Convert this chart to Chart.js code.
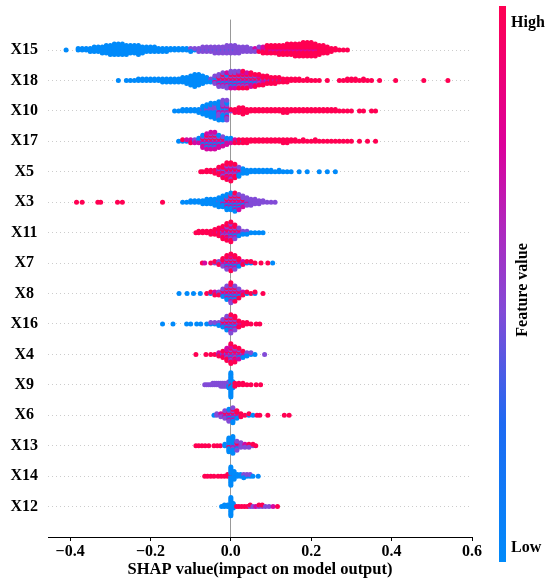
<!DOCTYPE html>
<html>
<head>
<meta charset="utf-8">
<script src="https://cdn.jsdelivr.net/npm/chart.js@4"></script>
<style>
html,body{margin:0;padding:0;background:#fff;}
canvas{display:block;}
</style>
</head>
<body>
<canvas id="c" width="550" height="580"></canvas>
<script>
// Feature names, top to bottom
const features = ['X15','X18','X10','X17','X5','X3','X11','X7','X8','X16','X4','X9','X6','X13','X14','X12'];
// Feature value (0 = low, 1 = high) of each count column in the bins below
const featureLevels = [0.0, 0.45, 0.72, 1.0];
const xTicks = [-0.4, -0.2, 0.0, 0.2, 0.4, 0.6];

// Bins: [SHAP value, nBlue(low), nPurple, nMagenta, nRed(high)]
const X15 = [
[-0.41,1,0,0,0],[-0.38,2,0,0,0],[-0.37,2,0,0,0],[-0.36,2,0,0,0],[-0.35,3,0,0,0],[-0.34,4,0,0,0],[-0.33,4,0,0,0],
[-0.32,5,0,0,0],[-0.31,6,0,0,0],[-0.30,7,0,0,0],[-0.29,8,0,0,0],[-0.28,8,0,0,0],[-0.27,8,0,0,0],[-0.26,7,0,0,0],
[-0.25,6,0,0,0],[-0.24,6,0,0,0],[-0.23,7,0,0,0],[-0.22,5,0,0,0],[-0.21,4,0,0,0],[-0.20,4,0,0,0],[-0.19,4,0,0,0],
[-0.18,3,0,0,0],[-0.17,3,0,0,0],[-0.16,3,0,0,0],[-0.15,2,0,0,0],[-0.14,2,0,0,0],[-0.13,2,0,0,0],[-0.12,2,0,0,0],
[-0.11,2,0,0,0],[-0.10,2,1,0,0],[-0.09,1,1,0,0],[-0.08,1,2,0,0],[-0.07,1,3,0,0],[-0.06,1,3,0,0],[-0.05,1,3,0,0],
[-0.04,1,4,0,0],[-0.03,1,4,0,0],[-0.02,1,4,0,0],[-0.01,1,5,0,0],[0.00,1,5,0,0],[0.01,1,5,0,0],[0.02,0,5,0,0],
[0.03,0,4,0,0],[0.04,0,4,0,0],[0.05,0,3,0,0],[0.06,0,2,1,0],[0.07,0,2,1,1],[0.08,0,1,2,2],[0.09,0,1,1,4],
[0.10,0,0,2,4],[0.11,0,0,2,4],[0.12,0,0,2,5],[0.13,0,0,2,5],[0.14,0,0,2,6],[0.15,0,0,2,6],[0.16,0,0,2,7],
[0.17,0,0,2,7],[0.18,0,0,2,8],[0.19,0,0,2,8],[0.20,0,0,2,8],[0.21,0,0,2,7],[0.22,0,0,1,6],[0.23,0,0,1,5],
[0.24,0,0,1,4],[0.25,0,0,0,3],[0.26,0,0,0,2],[0.27,0,0,0,1],[0.28,0,0,0,1],[0.29,0,0,0,1]
];
const X18 = [
[-0.28,1,0,0,0],[-0.26,1,0,0,0],[-0.25,1,0,0,0],[-0.24,1,0,0,0],[-0.23,2,0,0,0],[-0.22,2,0,0,0],[-0.21,2,0,0,0],
[-0.20,2,0,0,0],[-0.19,2,0,0,0],[-0.18,2,0,0,0],[-0.17,3,0,0,0],[-0.16,3,0,0,0],[-0.15,3,0,0,0],[-0.14,3,0,0,0],
[-0.13,3,0,0,0],[-0.12,4,0,0,0],[-0.11,5,0,0,0],[-0.10,7,0,0,0],[-0.09,9,0,0,0],[-0.08,8,0,0,0],[-0.07,6,0,0,0],
[-0.06,4,0,0,0],[-0.05,2,1,0,0],[-0.04,2,3,1,0],[-0.03,2,4,2,1],[-0.02,2,4,2,2],[-0.01,3,4,3,1],[0.00,3,4,3,2],
[0.01,3,4,3,2],[0.02,2,4,3,3],[0.03,2,3,3,4],[0.04,2,3,3,3],[0.05,2,2,3,3],[0.06,2,2,2,3],[0.07,1,2,2,3],
[0.08,1,1,2,3],[0.09,1,1,1,3],[0.10,1,0,1,3],[0.11,0,1,1,3],[0.12,1,0,1,2],[0.13,0,1,0,2],[0.14,0,0,1,2],
[0.15,0,0,0,2],[0.16,0,0,0,2],[0.17,0,0,0,2],[0.18,0,0,0,1],[0.19,0,0,0,2],[0.20,0,0,0,1],[0.21,0,0,0,1],
[0.22,0,0,0,1],[0.24,0,0,0,1],[0.27,0,0,0,1],[0.28,0,0,0,1],[0.29,0,0,0,2],[0.30,0,0,0,2],[0.31,0,0,0,2],
[0.32,0,0,0,1],[0.33,0,0,0,2],[0.34,0,0,0,1],[0.35,0,0,0,1],[0.37,0,0,0,1],[0.41,0,0,0,1],[0.48,0,0,0,1],[0.54,0,0,0,1]
];
const X10 = [
[-0.14,1,0,0,0],[-0.13,1,0,0,0],[-0.12,2,0,0,0],[-0.11,2,0,0,0],[-0.10,2,0,0,0],[-0.09,2,0,0,0],[-0.08,3,0,0,0],
[-0.07,5,1,0,0],[-0.06,6,2,0,0],[-0.05,7,3,0,0],[-0.04,7,4,0,0],[-0.03,7,5,1,0],[-0.02,6,6,2,0],[-0.01,5,6,3,0],
[0.00,0,1,0,1],[0.01,0,0,0,3],[0.02,0,0,1,3],[0.03,0,0,1,4],[0.04,0,0,0,3],[0.05,0,0,0,2],[0.06,0,0,0,2],
[0.07,0,0,0,2],[0.08,0,0,0,2],[0.09,0,0,0,2],[0.10,0,0,0,2],[0.11,0,0,0,2],[0.12,0,0,0,2],[0.13,0,0,0,3],
[0.14,0,0,0,3],[0.15,0,0,0,2],[0.16,0,0,0,2],[0.17,0,0,0,2],[0.18,0,0,0,2],[0.19,0,0,0,2],[0.20,0,0,0,2],
[0.21,0,0,0,2],[0.22,0,0,0,2],[0.23,0,0,0,2],[0.24,0,0,0,2],[0.25,0,0,0,2],[0.26,0,0,0,2],[0.27,0,0,0,1],
[0.28,0,0,0,1],[0.29,0,0,0,1],[0.30,0,0,0,1],[0.32,0,0,0,1],[0.33,0,0,0,1],[0.35,0,0,0,1],[0.36,0,0,0,1]
];
const X17 = [
[-0.13,1,0,0,0],[-0.12,1,0,0,1],[-0.11,1,0,1,0],[-0.10,1,0,1,1],[-0.09,1,1,1,0],[-0.08,2,1,1,0],[-0.07,3,2,3,1],
[-0.06,3,2,4,2],[-0.05,3,3,4,2],[-0.04,3,3,4,2],[-0.03,3,2,3,1],[-0.02,2,2,2,1],[-0.01,2,1,2,0],[0.00,2,1,1,0],
[0.01,1,0,1,1],[0.02,1,0,0,2],[0.03,1,0,0,2],[0.04,0,0,0,3],[0.05,0,0,0,2],[0.06,0,0,0,2],[0.07,0,0,0,2],
[0.08,0,0,0,2],[0.09,0,0,0,2],[0.10,0,0,0,2],[0.11,0,0,0,2],[0.12,0,0,0,2],[0.13,0,0,0,3],[0.14,0,0,0,3],
[0.15,0,0,0,2],[0.16,0,0,0,2],[0.17,0,0,0,1],[0.18,0,0,0,2],[0.19,0,0,0,1],[0.20,0,0,0,1],[0.21,0,0,0,2],
[0.22,0,0,0,1],[0.23,0,0,0,1],[0.24,0,0,0,1],[0.25,0,0,0,1],[0.26,0,0,0,1],[0.27,0,0,0,1],[0.28,0,0,0,1],
[0.29,0,0,0,1],[0.30,0,0,0,1],[0.32,0,0,0,1],[0.34,0,0,0,1],[0.36,0,0,0,1]
];
const X5 = [
[-0.075,0,0,0,1],[-0.07,0,0,0,1],[-0.06,0,0,0,2],[-0.05,0,0,0,2],[-0.04,0,1,0,2],[-0.03,0,2,1,3],[-0.02,0,3,2,4],
[-0.01,1,3,3,5],[0.00,1,4,3,5],[0.01,1,3,2,4],[0.02,3,2,1,1],[0.03,3,1,0,0],[0.04,3,0,0,0],[0.05,2,0,0,0],
[0.06,2,0,0,0],[0.07,2,0,0,0],[0.08,2,0,0,0],[0.09,2,0,0,0],[0.10,2,0,0,0],[0.11,1,0,0,0],[0.12,2,0,0,0],
[0.13,1,0,0,0],[0.14,1,0,0,0],[0.15,1,0,0,0],[0.17,1,0,0,0],[0.19,1,0,0,0],[0.22,1,0,0,0],[0.24,1,0,0,0],[0.26,1,0,0,0]
];
const X3 = [
[-0.384,0,0,0,1],[-0.37,0,0,0,1],[-0.331,0,0,0,1],[-0.324,0,0,0,1],[-0.282,0,0,0,1],[-0.27,0,0,0,1],[-0.17,0,0,0,1],
[-0.12,1,0,0,0],[-0.11,1,0,0,0],[-0.10,2,0,0,0],[-0.09,2,0,0,0],[-0.08,2,0,0,0],[-0.07,3,0,0,0],[-0.06,4,0,0,0],
[-0.05,4,0,0,0],[-0.04,5,0,0,0],[-0.03,6,1,0,0],[-0.02,6,1,1,0],[-0.01,6,2,2,1],[0.00,5,3,2,2],[0.01,4,3,3,3],
[0.02,3,3,3,2],[0.03,2,3,2,1],[0.04,1,4,1,0],[0.05,1,4,0,0],[0.06,0,4,0,0],[0.07,0,3,0,0],[0.08,0,2,0,0],
[0.09,0,1,0,0],[0.10,0,1,0,0],[0.11,0,1,0,0]
];
const X11 = [
[-0.087,0,0,0,1],[-0.08,0,0,0,2],[-0.07,0,0,0,2],[-0.06,0,0,0,2],[-0.05,0,0,0,3],[-0.04,0,0,1,3],[-0.03,0,1,1,4],
[-0.02,1,2,2,4],[-0.01,1,3,3,5],[0.00,2,4,3,5],[0.01,2,3,2,3],[0.02,2,2,1,1],[0.03,2,1,0,0],[0.04,2,1,0,0],
[0.05,1,0,0,0],[0.06,1,0,0,0],[0.07,1,0,0,0],[0.08,1,0,0,0]
];
const X7 = [
[-0.071,0,0,0,1],[-0.065,0,0,1,0],[-0.05,0,0,0,1],[-0.04,0,1,0,1],[-0.03,1,1,0,1],[-0.02,1,2,1,2],[-0.01,2,3,2,3],
[0.00,2,3,3,4],[0.01,2,3,2,3],[0.02,2,1,1,2],[0.03,1,0,1,1],[0.04,1,0,0,1],[0.05,1,0,0,1],[0.06,0,0,0,1],
[0.075,0,0,0,1],[0.092,0,0,0,1],[0.104,1,0,0,0]
];
const X8 = [
[-0.129,1,0,0,0],[-0.109,1,0,0,0],[-0.093,1,0,0,0],[-0.076,1,0,0,0],[-0.06,0,0,0,1],[-0.05,1,0,0,1],[-0.04,1,0,1,1],
[-0.03,1,1,0,1],[-0.02,2,2,1,1],[-0.01,3,3,2,2],[0.00,3,4,3,4],[0.01,3,3,2,3],[0.02,2,2,1,2],[0.03,1,0,1,1],
[0.04,1,0,0,1],[0.05,0,0,0,1],[0.06,1,0,0,1],[0.08,0,0,0,1]
];
const X16 = [
[-0.17,1,0,0,0],[-0.144,1,0,0,0],[-0.11,1,0,0,0],[-0.10,1,0,0,0],[-0.085,1,0,0,0],[-0.075,1,0,0,0],[-0.06,1,0,0,0],
[-0.05,1,1,0,0],[-0.04,1,1,0,0],[-0.03,2,1,0,0],[-0.02,2,2,1,1],[-0.01,3,3,2,2],[0.00,3,4,3,3],[0.01,2,3,2,3],
[0.02,1,1,1,2],[0.03,0,0,1,2],[0.04,0,0,0,2],[0.05,0,0,0,1],[0.063,0,0,0,1],[0.072,0,0,0,1]
];
const X4 = [
[-0.087,0,0,0,1],[-0.062,0,0,0,1],[-0.05,0,0,0,1],[-0.04,0,0,0,1],[-0.03,1,0,1,1],[-0.02,1,1,1,2],[-0.01,1,2,3,3],
[0.00,2,3,4,5],[0.01,1,3,3,4],[0.02,2,2,2,2],[0.03,2,1,1,1],[0.04,2,1,0,0],[0.05,1,1,0,0],[0.06,1,0,0,0],[0.084,0,1,0,0]
];
const X9 = [
[-0.065,0,1,0,0],[-0.06,0,1,0,0],[-0.055,0,1,0,0],[-0.05,0,1,0,0],[-0.045,0,2,0,0],[-0.04,0,2,0,0],[-0.035,0,2,0,0],
[-0.03,0,2,0,0],[-0.025,0,3,0,0],[-0.02,0,3,0,0],[-0.015,0,3,0,0],[-0.01,0,3,0,0],[-0.005,3,2,0,0],[0.00,15,1,0,1],
[0.005,4,0,0,1],[0.01,1,0,0,2],[0.02,0,0,0,2],[0.03,0,0,0,2],[0.04,0,0,0,1],[0.05,0,0,0,1],[0.063,0,0,0,1],[0.074,0,0,0,1]
];
const X6 = [
[-0.042,1,0,0,0],[-0.035,0,2,0,0],[-0.025,0,2,1,0],[-0.015,1,3,1,1],[-0.005,3,3,2,1],[0.005,4,3,2,2],[0.015,2,1,1,2],
[0.025,1,0,0,2],[0.035,0,0,0,1],[0.045,1,0,0,1],[0.055,1,0,0,0],[0.065,0,0,0,1],[0.072,0,0,0,1],[0.092,0,0,0,1],
[0.133,0,0,0,1],[0.145,0,0,0,1]
];
const X13 = [
[-0.087,0,0,0,1],[-0.08,0,0,0,1],[-0.072,0,0,0,1],[-0.064,0,0,0,1],[-0.055,0,0,0,1],[-0.042,0,0,0,1],[-0.034,0,0,0,1],
[-0.026,0,0,0,1],[-0.015,2,0,0,0],[-0.005,8,1,0,1],[0.005,9,2,1,0],[0.015,2,3,1,1],[0.025,0,3,1,0],[0.035,0,2,1,0],
[0.045,0,2,0,1],[0.055,0,1,0,1],[0.062,0,0,0,1]
];
const X14 = [
[-0.065,0,0,0,1],[-0.058,0,0,0,1],[-0.05,0,0,0,1],[-0.042,0,0,0,1],[-0.032,0,0,0,1],[-0.024,0,0,0,1],[-0.016,0,0,0,1],
[-0.008,0,0,0,2],[0.00,12,0,0,1],[0.008,6,0,0,0],[0.016,2,0,0,0],[0.024,2,0,0,0],[0.032,2,1,0,0],[0.04,1,1,0,0],
[0.048,1,1,0,0],[0.055,1,0,0,0],[0.068,1,0,0,0]
];
const X12 = [
[-0.023,1,0,0,0],[-0.016,2,0,0,0],[-0.008,2,0,0,0],[0.00,13,0,0,0],[0.006,4,0,0,0],[0.014,0,0,0,1],[0.02,0,0,0,1],
[0.027,0,0,0,1],[0.034,0,0,0,1],[0.041,0,0,0,1],[0.048,0,1,0,1],[0.055,0,1,0,0],[0.062,0,0,1,0],[0.07,0,1,0,1],
[0.078,0,1,0,1],[0.086,0,1,0,0],[0.095,0,1,0,0],[0.105,0,0,1,0],[0.116,0,0,0,1]
];
const rows = [X15, X18, X10, X17, X5, X3, X11, X7, X8, X16, X4, X9, X6, X13, X14, X12];

// ---- styling ----
const FONT = '"Liberation Serif", "Times New Roman", serif';
const cmapStops = [
  [0.00, [0,138,250]],
  [0.25, [30,105,242]],
  [0.45, [130,75,215]],
  [0.60, [175,40,190]],
  [0.75, [220,0,155]],
  [1.00, [255,0,82]]
];
function cmap(t){
  for(let i=1;i<cmapStops.length;i++){
    const [t1,c1]=cmapStops[i], [t0,c0]=cmapStops[i-1];
    if(t<=t1){
      const f=(t-t0)/(t1-t0);
      const c=c0.map((v,k)=>Math.round(v+(c1[k]-v)*f));
      return `rgb(${c[0]},${c[1]},${c[2]})`;
    }
  }
  const c=cmapStops[cmapStops.length-1][1];
  return `rgb(${c[0]},${c[1]},${c[2]})`;
}
const STACK = 0.05;   // vertical step between stacked dots, in row units

const datasets = rows.map((bins, r) => {
  const yc = features.length - 1 - r;
  const pts = [], cols = [];
  bins.forEach(b => {
    const counts = b.slice(1).slice();
    const seq = [];
    let left = counts.reduce((a,c)=>a+c,0);
    while(left>0){
      for(let k=0;k<counts.length;k++){ if(counts[k]>0){ seq.push(k); counts[k]--; left--; } }
    }
    seq.forEach((lvl, j) => {
      const off = j===0 ? 0 : (j%2===1 ? (j+1)/2 : -j/2) * STACK;
      pts.push({x: b[0], y: yc + off});
      cols.push(cmap(featureLevels[lvl]));
    });
  });
  return {data: pts, pointBackgroundColor: cols, pointBorderWidth: 0, pointRadius: 2.5, pointHoverRadius: 2.5, showLine: false};
});

const fmt = v => (v < -1e-9 ? '\u2212' : '') + Math.abs(v).toFixed(1);

const colorbar = {
  id: 'colorbar',
  afterDraw(chart){
    const ctx = chart.ctx;
    const x0 = 499, w = 7, top = 6, bot = 562;
    const g = ctx.createLinearGradient(0, bot, 0, top);
    cmapStops.forEach(([t]) => g.addColorStop(t, cmap(t)));
    ctx.save();
    ctx.fillStyle = g;
    ctx.fillRect(x0, top, w, bot - top);
    ctx.fillStyle = '#000';
    ctx.font = 'bold 16px ' + FONT;
    ctx.textBaseline = 'middle';
    ctx.textAlign = 'left';
    ctx.fillText('High', 511, 23);
    ctx.fillText('Low', 511, 548);
    ctx.translate(523, 290);
    ctx.rotate(-Math.PI/2);
    ctx.textAlign = 'center';
    ctx.fillText('Feature value', 0, 0);
    ctx.restore();
  }
};

new Chart(document.getElementById('c'), {
  type: 'scatter',
  data: {datasets},
  plugins: [colorbar],
  options: {
    responsive: false,
    animation: false,
    events: [],
    layout: {padding: {top: 7, right: 78, left: 0, bottom: 0}},
    plugins: {legend: {display: false}, tooltip: {enabled: false}},
    scales: {
      x: {
        type: 'linear', min: -0.455, max: 0.6,
        afterBuildTicks: s => { s.ticks = xTicks.map(v => ({value: v})); },
        afterFit: s => { s.height = 43; },
        ticks: {callback: v => fmt(v), color: '#000', padding: 1, maxRotation: 0, autoSkip: false,
                font: {family: FONT, size: 16, weight: 'bold'}},
        grid: {color: c => (c.tick && Math.abs(c.tick.value) < 1e-9) ? '#999999' : 'rgba(0,0,0,0)',
               tickColor: '#000', tickLength: 4, lineWidth: 1},
        border: {color: '#000', width: 1},
        title: {display: true, text: 'SHAP value(impact on model output)', color: '#000',
                font: {family: FONT, size: 16.5, weight: 'bold'}, padding: {top: 0, bottom: 0}}
      },
      y: {
        type: 'linear', min: -1, max: 16,
        afterBuildTicks: s => { s.ticks = features.map((f, i) => ({value: features.length - 1 - i})); },
        afterFit: s => { s.width = 48; },
        ticks: {callback: v => features[features.length - 1 - Math.round(v)], color: '#000', padding: 10,
                crossAlign: 'center', autoSkip: false, font: {family: FONT, size: 16, weight: 'bold'}},
        grid: {color: '#cccccc', lineWidth: 1, drawTicks: false},
        border: {display: false, dash: [1, 3]}
      }
    }
  }
});
</script>
</body>
</html>
